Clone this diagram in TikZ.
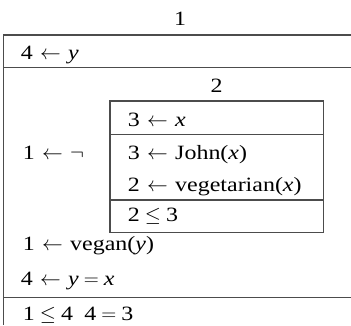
\documentclass[tikz,border=0pt]{standalone}
\usepackage{fontspec}
\setmainfont{Liberation Serif}[FakeStretch=1.18]
\newcommand\lar{\hspace{0.36em}$\leftarrow$\hspace{0.36em}}
\newcommand\rel[1]{\hspace{0.25em}$#1$\hspace{0.25em}}
\begin{document}
\begin{tikzpicture}[x=1pt,y=-1pt,
  txt/.style={inner sep=0pt, anchor=base west, font=\fontsize{20.3}{24}\selectfont},
  rule/.style={line width=1.3pt, draw=black!70}]
\useasboundingbox (0,0) rectangle (351,325);
% outer frame
\draw[rule] (351,35) -- (3.5,35) -- (3.5,325);
\draw[rule] (3.5,67.7) -- (351,67.7);
\draw[rule] (3.5,297.7) -- (351,297.7);
% inner box
\draw[rule] (110,101) rectangle (323.3,232.3);
\draw[rule] (110,134.3) -- (323.3,134.3);
\draw[rule] (110,200) -- (323.3,200);
% texts
\node[txt, anchor=base] (h1) at (180,25) {1};
\node[txt] (c1) at (20.7,59) {4\lar\textit{y}};
\node[txt, anchor=base] (h2) at (216.7,92.7) {2};
\node[txt] (c2) at (22.7,159) {1\lar$\neg$};
\node[txt] (i1) at (127.7,126) {3\lar\textit{x}};
\node[txt] (i2) at (127.7,159.3) {3\lar John(\textit{x})};
\node[txt] (i3) at (127.7,191.7) {2\lar vegetarian(\textit{x})};
\node[txt] (i4) at (127.7,221.7) {2\rel{\leq}3};
\node[txt] (c3) at (22.7,250.7) {1\lar vegan(\textit{y})};
\node[txt] (c4) at (20.7,285) {4\lar\textit{y}\rel{=}\textit{x}};
\node[txt] (c5) at (22.7,320.7) {1\rel{\leq}4\hspace{0.55em}4\rel{=}3};
\end{tikzpicture}
\end{document}
